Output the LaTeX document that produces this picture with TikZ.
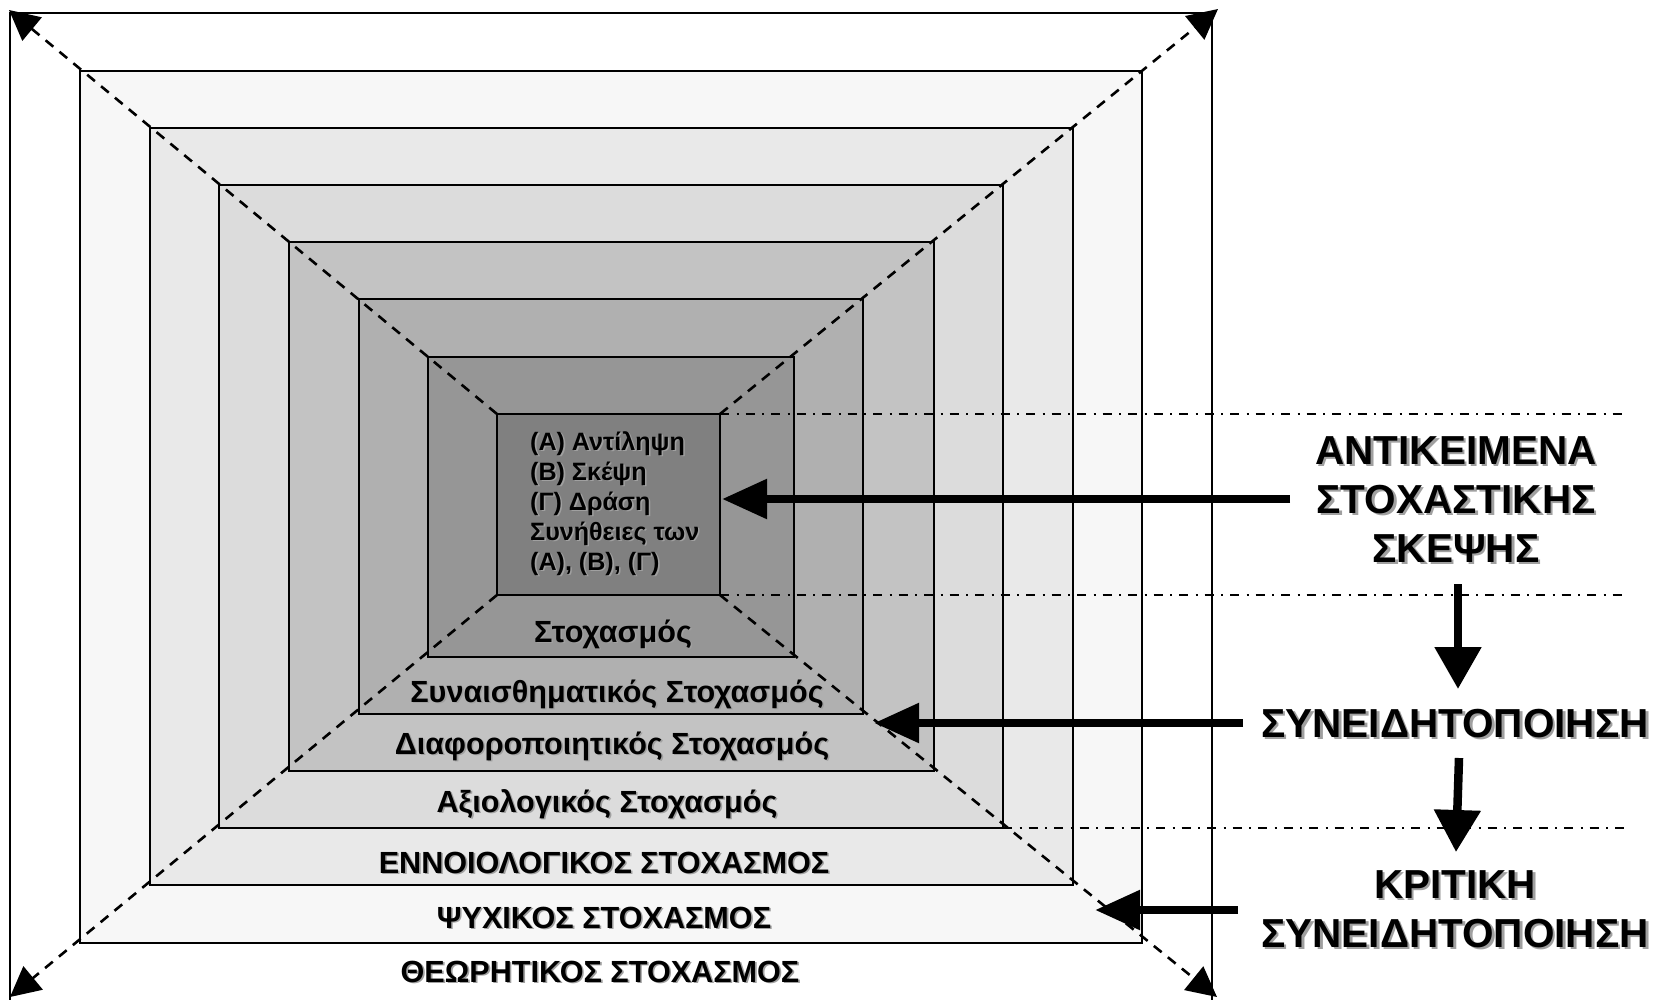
\documentclass[tikz,border=0pt]{standalone}
\usepackage{fontspec}
\setmainfont{Liberation Sans}
\usetikzlibrary{arrows.meta}
\definecolor{cc2}{HTML}{F7F7F7}
\definecolor{cc3}{HTML}{E9E9E9}
\definecolor{cc4}{HTML}{DCDCDC}
\definecolor{cc5}{HTML}{C3C3C3}
\definecolor{cc6}{HTML}{B0B0B0}
\definecolor{cc7}{HTML}{969696}
\definecolor{cc8}{HTML}{808080}
\definecolor{shgray}{HTML}{A0A0A0}
\newcommand\shs[1]{\rlap{\kern1.6pt\raisebox{-1.6pt}{\textcolor{shgray}{#1}}}#1}
\newcommand\shb[1]{\rlap{\kern2.6pt\raisebox{-2.6pt}{\textcolor{shgray}{#1}}}#1}
\begin{document}
\begin{tikzpicture}[x=1pt,y=-1pt,
  ring/.style={draw=black, line width=2.4pt, inner sep=0pt, outer sep=0pt, anchor=north west},
  diag/.style={line width=2.6pt, dash pattern=on 10pt off 8pt, -{Triangle[length=30pt,width=30pt]}},
  dashdot/.style={line width=1.7pt, dash pattern=on 9pt off 7.5pt on 2pt off 7pt},
  ringtxt/.style={anchor=base, inner sep=0pt, font=\bfseries\fontsize{30.6}{36}\selectfont},
  innertxt/.style={anchor=base west, inner sep=0pt, align=left, font=\bfseries\fontsize{25.1}{30}\selectfont},
  rlabel/.style={anchor=base, inner sep=0pt, align=center, font=\bfseries\fontsize{40.5}{49}\selectfont},
  bigarrow/.style={line width=8.5pt, -{Triangle[length=45pt,width=38pt]}},
  vdarrow/.style={line width=8.5pt, -{Triangle[length=42pt,width=45pt]}}]
\useasboundingbox (0,0) rectangle (1655,999);
% nested rectangles
\node[ring, line width=2.8pt, fill=white, minimum width=1202pt, minimum height=1030pt] (r1) at (10,13) {};
\node[ring, fill=cc2, minimum width=1062pt, minimum height=872pt] (r2) at (80,71) {};
\node[ring, fill=cc3, minimum width=923pt, minimum height=757pt] (r3) at (150,128) {};
\node[ring, fill=cc4, minimum width=784pt, minimum height=643pt] (r4) at (219,185) {};
\node[ring, fill=cc5, minimum width=645pt, minimum height=529pt] (r5) at (289,242) {};
\node[ring, fill=cc6, minimum width=504pt, minimum height=415pt] (r6) at (359,299) {};
\node[ring, fill=cc7, minimum width=366pt, minimum height=300pt] (r7) at (428,357) {};
\node[ring, fill=cc8, minimum width=223pt, minimum height=181pt] (r8) at (497,414) {};
% diagonal arrows
\coordinate (tl) at (9,10);
\coordinate (tr) at (1218,9);
\coordinate (bl) at (10,997);
\coordinate (br) at (1217,997);
\draw[diag] (r8.north west) -- (tl);
\draw[diag] (r8.north east) -- (tr);
\draw[diag] (r8.south west) -- (bl);
\draw[diag] (r8.south east) -- (br);
% dash-dot guide lines
\coordinate (dde) at (1625,0);
\draw[dashdot] (r8.north east) -- (r8.north east -| dde);
\draw[dashdot] (r8.south east) -- (r8.south east -| dde);
\draw[dashdot] (r4.south east) -- (r4.south east -| dde);
% inner text
\node[innertxt] (inner) at (530,570) {\shs{(Α) Αντίληψη}\\\shs{(Β) Σκέψη}\\\shs{(Γ) Δράση}\\\shs{Συνήθειες των}\\\shs{(Α), (Β), (Γ)}};
% ring labels
\node[ringtxt] (t7) at (613,642) {\shs{Στοχασμός}};
\node[ringtxt] (t6) at (617,702) {\shs{Συναισθηματικός Στοχασμός}};
\node[ringtxt] (t5) at (612,754) {\shs{Διαφοροποιητικός Στοχασμός}};
\node[ringtxt] (t4) at (607,812) {\shs{Αξιολογικός Στοχασμός}};
\node[ringtxt] (t3) at (604,873) {\shs{ΕΝΝΟΙΟΛΟΓΙΚΟΣ ΣΤΟΧΑΣΜΟΣ}};
\node[ringtxt] (t2) at (604,928) {\shs{ΨΥΧΙΚΟΣ ΣΤΟΧΑΣΜΟΣ}};
\node[ringtxt] (t1) at (600,982) {\shs{ΘΕΩΡΗΤΙΚΟΣ ΣΤΟΧΑΣΜΟΣ}};
% right labels
\node[rlabel] (obj) at (1456,562) {\shb{ΑΝΤΙΚΕΙΜΕΝΑ}\\\shb{ΣΤΟΧΑΣΤΙΚΗΣ}\\\shb{ΣΚΕΨΗΣ}};
\node[rlabel] (syn) at (1455,737) {\shb{ΣΥΝΕΙΔΗΤΟΠΟΙΗΣΗ}};
\node[rlabel] (krit) at (1455,947) {\shb{ΚΡΙΤΙΚΗ}\\\shb{ΣΥΝΕΙΔΗΤΟΠΟΙΗΣΗ}};
% arrows
\coordinate (a1s) at (1290,499);
\coordinate (a1e) at (722,499);
\coordinate (a2s) at (1458,584);
\coordinate (a2e) at (1458,689);
\coordinate (a3s) at (1243,723);
\coordinate (a3e) at (874,723);
\coordinate (a4s) at (1459,758);
\coordinate (a4e) at (1456,852);
\coordinate (a5s) at (1238,910);
\coordinate (a5e) at (1095,910);
\draw[bigarrow] (a1s) -- (a1e);
\draw[vdarrow] (a2s) -- (a2e);
\draw[bigarrow] (a3s) -- (a3e);
\draw[vdarrow] (a4s) -- (a4e);
\draw[bigarrow] (a5s) -- (a5e);
\end{tikzpicture}
\end{document}
